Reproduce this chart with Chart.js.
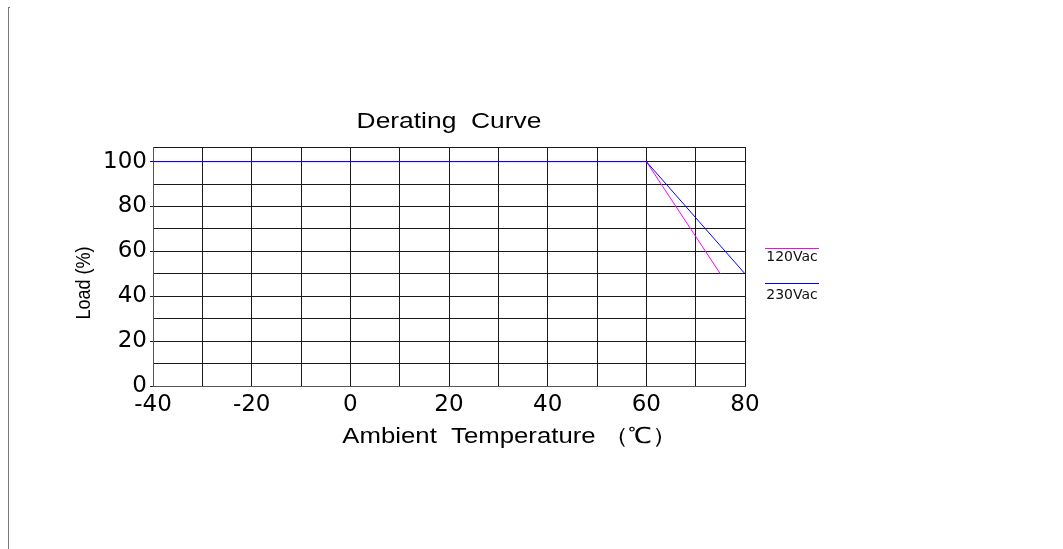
<!DOCTYPE html>
<html>
<head>
<meta charset="utf-8">
<script src="https://cdn.jsdelivr.net/npm/chart.js@4.4.1/dist/chart.umd.min.js"></script>
<style>
  html, body { margin: 0; padding: 0; background: #fff; }
  #wrap { position: relative; width: 1063px; height: 549px; }
  #frame { position: absolute; left: 8px; top: 7px; width: 2px; height: 542px; border-left: 1px solid #7a7a7a; border-top: 1px solid #7a7a7a; box-sizing: border-box; }
  canvas { position: absolute; left: 0; top: 0; }
</style>
</head>
<body>
<div id="wrap">
  <div id="frame"></div>
  <canvas id="c" width="1063" height="549"></canvas>
</div>
<script>
// ---- data ----
const chartTitle = 'Derating  Curve';
const xAxisTitle = 'Ambient  Temperature （℃）';
const yAxisTitle = 'Load (%)';
const seriesNames = ['120Vac', '230Vac'];
const seriesColors = ['#ff00ff', '#0000ff'];
const temp120 = [-40, 60, 75];
const load120 = [100, 100, 50];
const temp230 = [-40, 60, 80];
const load230 = [100, 100, 50];
const xTickLabels = [-40, -20, 0, 20, 40, 60, 80];
const yTickLabels = [0, 20, 40, 60, 80, 100];
const xMin = -40, xMax = 80, xStep = 10;
const yMin = 0, yMax = 106.5, yStep = 10;

const toPts = (xs, ys) => xs.map((x, i) => ({ x: x, y: ys[i] }));
const yGridValues = [];
for (let v = yMin; v <= 100; v += yStep) yGridValues.push(v);
yGridValues.push(yMax);

function stretchedText(ctx, text, x, y, sx) {
  ctx.save();
  ctx.translate(x, y);
  ctx.scale(sx, 1);
  ctx.fillText(text, 0, 0);
  ctx.restore();
}

const textPlugin = {
  id: 'texts',
  afterDraw(chart) {
    const ctx = chart.ctx;
    ctx.save();
    ctx.fillStyle = '#000';
    ctx.textAlign = 'center';
    ctx.textBaseline = 'middle';
    ctx.font = '22px "Liberation Sans"';
    stretchedText(ctx, chartTitle, 449, 122, 1.2);
    ctx.font = '22px "Liberation Sans"';
    stretchedText(ctx, xAxisTitle, 510, 437, 1.17);
    ctx.save();
    ctx.translate(84, 283);
    ctx.rotate(-Math.PI / 2);
    ctx.scale(0.9, 1);
    ctx.font = '20px "Liberation Sans"';
    ctx.fillText(yAxisTitle, 0, 0);
    ctx.restore();
    // legend
    const legendY = [248, 283];
    const textY = [257, 295];
    ctx.font = '14px "DejaVu Sans"';
    ctx.lineWidth = 1.2;
    for (let i = 0; i < seriesNames.length; i++) {
      ctx.strokeStyle = seriesColors[i];
      ctx.beginPath();
      ctx.moveTo(765, legendY[i] + 0.5);
      ctx.lineTo(819, legendY[i] + 0.5);
      ctx.stroke();
      ctx.fillStyle = '#111';
      ctx.fillText(seriesNames[i], 792, textY[i]);
    }
    ctx.restore();
  }
};

new Chart(document.getElementById('c'), {
  type: 'line',
  data: {
    datasets: [
      { label: seriesNames[0], data: toPts(temp120, load120), borderColor: seriesColors[0], borderWidth: 1, pointRadius: 0, tension: 0, fill: false, order: 2 },
      { label: seriesNames[1], data: toPts(temp230, load230), borderColor: seriesColors[1], borderWidth: 1, pointRadius: 0, tension: 0, fill: false, order: 1 }
    ]
  },
  options: {
    responsive: false,
    animation: false,
    layout: { padding: { left: 0, top: 147, right: 318, bottom: 123 } },
    plugins: { legend: { display: false }, title: { display: false }, tooltip: { enabled: false } },
    scales: {
      x: {
        type: 'linear', min: xMin, max: xMax,
        ticks: {
          stepSize: xStep, color: '#000', padding: 3, maxRotation: 0, autoSkip: false,
          font: { family: '"DejaVu Sans"', size: 23 },
          callback: v => xTickLabels.includes(Math.round(v)) ? String(Math.round(v)) : ''
        },
        grid: { color: '#1a1a1a', lineWidth: 1, tickLength: 2, tickColor: 'transparent' },
        border: { color: '#555', width: 1 },
        afterFit: s => { s.height = 40; }
      },
      y: {
        type: 'linear', min: yMin, max: yMax,
        afterBuildTicks: s => { s.ticks = yGridValues.map(v => ({ value: v })); },
        ticks: {
          color: '#000', padding: 3, autoSkip: false,
          font: { family: '"DejaVu Sans"', size: 23 },
          callback: v => yTickLabels.includes(v) ? String(v) : ''
        },
        grid: { color: '#1a1a1a', lineWidth: 1, tickLength: 3,
                tickColor: c => (c.tick && yTickLabels.includes(c.tick.value)) ? '#1a1a1a' : 'transparent' },
        border: { color: '#555', width: 1 },
        afterFit: s => { s.width = 153; }
      }
    }
  },
  plugins: [textPlugin]
});
</script>
</body>
</html>
